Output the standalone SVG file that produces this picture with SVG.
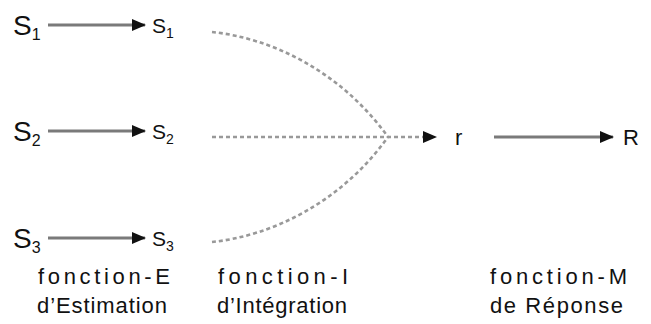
<svg xmlns="http://www.w3.org/2000/svg" width="651" height="324" viewBox="0 0 651 324">
<style>
text{font-family:"Liberation Sans",Arial,sans-serif;fill:#111}
.big{font-size:28px}
.bsub{font-size:16px}
.sm{font-size:21px}
.ssub{font-size:14px}
.lab{font-size:22px}
.solid{stroke:#7a7a7a;stroke-width:3;fill:none}
.dash{stroke:#999;stroke-width:2.6;fill:none;stroke-dasharray:4 3}
</style>
<defs>
<marker id="ah" markerWidth="14" markerHeight="12" refX="13" refY="6" orient="auto" markerUnits="userSpaceOnUse">
<path d="M0,0 L14,6 L0,12 Z" fill="#111"/>
</marker>
</defs>
<g id="connectors">
<line class="solid" x1="48" y1="25" x2="145" y2="25" marker-end="url(#ah)"/>
<line class="solid" x1="48" y1="131" x2="145" y2="131" marker-end="url(#ah)"/>
<line class="solid" x1="48" y1="238" x2="145" y2="238" marker-end="url(#ah)"/>
<path class="dash" d="M212,32 C270,38 340,70 388,137"/>
<path class="dash" d="M212,242 C270,236 340,204 388,137"/>
<line class="dash" x1="212" y1="137" x2="436" y2="137" marker-end="url(#ah)"/>
<line class="solid" x1="494" y1="137" x2="613" y2="137" marker-end="url(#ah)"/>
</g>
<g id="S1"><text class="big" x="13" y="35">S<tspan class="bsub" dy="5">1</tspan></text></g>
<g id="s1"><text class="sm" x="152" y="33">S<tspan class="ssub" dy="5">1</tspan></text></g>
<g id="S2"><text class="big" x="13" y="141">S<tspan class="bsub" dy="5">2</tspan></text></g>
<g id="s2"><text class="sm" x="152" y="139">S<tspan class="ssub" dy="5">2</tspan></text></g>
<g id="S3"><text class="big" x="13" y="248">S<tspan class="bsub" dy="5">3</tspan></text></g>
<g id="s3"><text class="sm" x="152" y="246">S<tspan class="ssub" dy="5">3</tspan></text></g>
<g id="r"><text class="lab" x="455" y="145">r</text></g>
<g id="R"><text class="lab" x="623" y="145">R</text></g>
<g id="labelE">
<text class="lab" x="38" y="284" textLength="132" lengthAdjust="spacing">fonction-E</text>
<text class="lab" x="37" y="313" textLength="130" lengthAdjust="spacing">d’Estimation</text>
</g>
<g id="labelI">
<text class="lab" x="218" y="284" textLength="130" lengthAdjust="spacing">fonction-I</text>
<text class="lab" x="217" y="313" textLength="130" lengthAdjust="spacing">d’Intégration</text>
</g>
<g id="labelM">
<text class="lab" x="490" y="284" textLength="137" lengthAdjust="spacing">fonction-M</text>
<text class="lab" x="490" y="313" textLength="133" lengthAdjust="spacing">de Réponse</text>
</g>
</svg>
